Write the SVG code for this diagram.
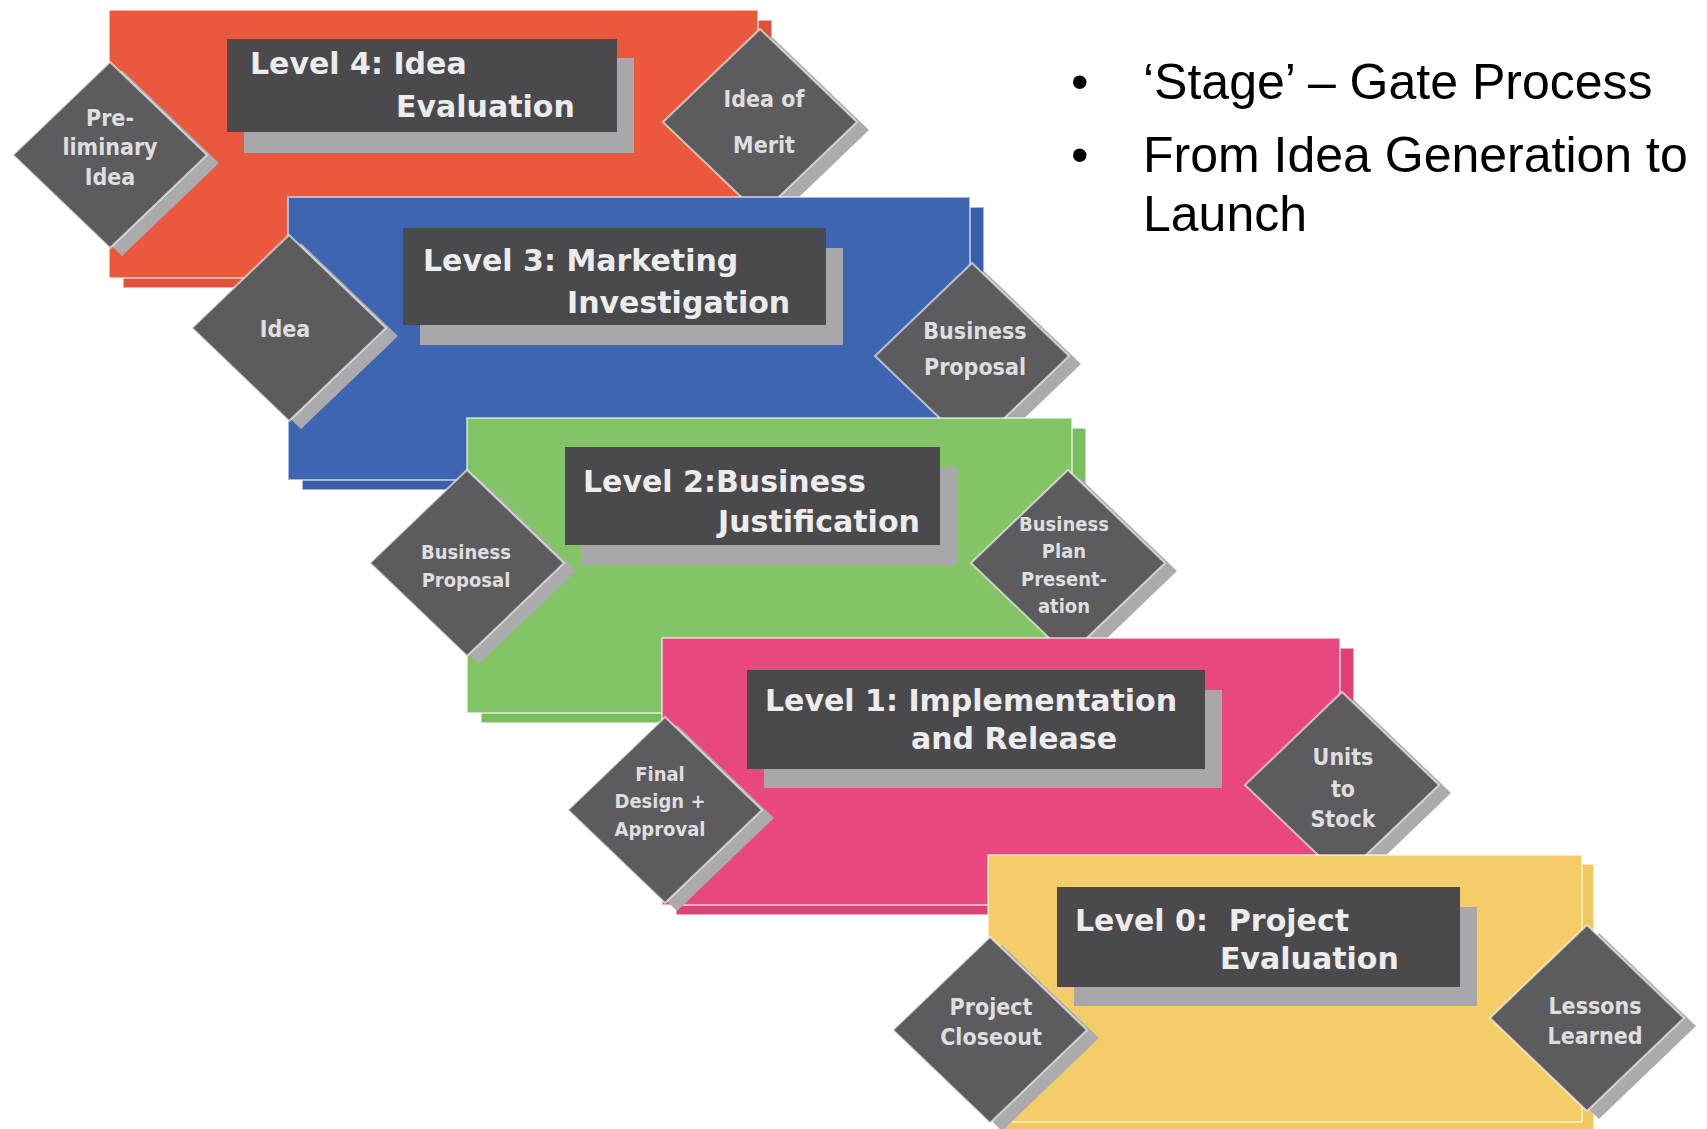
<svg xmlns="http://www.w3.org/2000/svg" xmlns:xlink="http://www.w3.org/1999/xlink" width="1707" height="1129" viewBox="0 0 1707 1129">
<defs>
<style>
.title{font-family:"DejaVu Sans","Liberation Sans",sans-serif;font-weight:bold;font-size:30px;fill:#ececec}
.gt{font-family:"DejaVu Sans Condensed","DejaVu Sans",sans-serif;font-stretch:condensed;font-weight:bold;font-size:23px;fill:#dedede;text-anchor:middle}
.gts{font-size:20px}
.box{fill:#4a4a4d}
.boxsh{fill:#a8a8ab}
.gate{fill:#5c5c5f;stroke:#ffffff;stroke-opacity:0.6;stroke-width:2}
.gatesh{fill:#ababad}
.bul{font-family:"Liberation Sans",Arial,sans-serif;font-size:50px;fill:#000000}
.edge{stroke:#ffffff;stroke-opacity:0.55;stroke-width:2}
</style>
<g id="gateShape">
<polygon class="gatesh" points="-85,8 12,-85 109,8 12,101"/>
<polygon class="gate" points="-97,0 0,-93 97,0 0,93"/>
</g>
</defs>
<rect width="1707" height="1129" fill="#ffffff"/>

<g id="connectors"/>

<!-- Level 4 -->
<g id="level4">
<rect x="123" y="20" width="649" height="268" fill="#e0503a" class="edge"/>
<rect x="109" y="10" width="649" height="268" fill="#ea593d" class="edge"/>
<rect class="boxsh" x="244" y="58" width="390" height="95"/>
<rect class="box" x="227" y="39" width="390" height="93"/>
<text class="title" x="250" y="74">Level 4: Idea</text>
<text class="title" x="396" y="117">Evaluation</text>
<g id="gate-preliminary-idea">
<use xlink:href="#gateShape" x="110" y="155"/>
<text class="gt" x="110" y="126">Pre-</text>
<text class="gt" x="110" y="155">liminary</text>
<text class="gt" x="110" y="185">Idea</text>
</g>
<g id="gate-idea-of-merit">
<use xlink:href="#gateShape" x="760" y="122"/>
<text class="gt" x="764" y="107">Idea of</text>
<text class="gt" x="764" y="153">Merit</text>
</g>
</g>

<!-- Level 3 -->
<g id="level3">
<rect x="302" y="207" width="682" height="283" fill="#3960a8" class="edge"/>
<rect x="288" y="197" width="682" height="283" fill="#3e65b1" class="edge"/>
<rect class="boxsh" x="420" y="248" width="423" height="97"/>
<rect class="box" x="403" y="228" width="423" height="97"/>
<text class="title" x="423" y="271">Level 3: Marketing</text>
<text class="title" x="567" y="313">Investigation</text>
<g id="gate-idea">
<use xlink:href="#gateShape" x="289" y="328"/>
<text class="gt" x="285" y="337">Idea</text>
</g>
<g id="gate-business-proposal-1">
<use xlink:href="#gateShape" x="972" y="356"/>
<text class="gt" x="975" y="339">Business</text>
<text class="gt" x="975" y="375">Proposal</text>
</g>
</g>

<!-- Level 2 -->
<g id="level2">
<rect x="481" y="428" width="605" height="295" fill="#79be5e" class="edge"/>
<rect x="467" y="418" width="605" height="295" fill="#82c466" class="edge"/>
<rect class="boxsh" x="582" y="467" width="375" height="98"/>
<rect class="box" x="565" y="447" width="375" height="98"/>
<text class="title" x="583" y="492">Level 2:Business</text>
<text class="title" x="718" y="532">Justification</text>
<g id="gate-business-proposal-2">
<use xlink:href="#gateShape" x="467" y="563"/>
<text class="gt gts" x="466" y="559">Business</text>
<text class="gt gts" x="466" y="587">Proposal</text>
</g>
<g id="gate-business-plan-presentation">
<use xlink:href="#gateShape" x="1068" y="563"/>
<text class="gt gts" x="1064" y="531">Business</text>
<text class="gt gts" x="1064" y="558">Plan</text>
<text class="gt gts" x="1064" y="586">Present-</text>
<text class="gt gts" x="1064" y="613">ation</text>
</g>
</g>

<!-- Level 1 -->
<g id="level1">
<rect x="676" y="648" width="678" height="267" fill="#df4076" class="edge"/>
<rect x="662" y="638" width="678" height="267" fill="#e8487f" class="edge"/>
<rect class="boxsh" x="764" y="690" width="458" height="98"/>
<rect class="box" x="747" y="670" width="458" height="99"/>
<text class="title" x="765" y="711">Level 1: Implementation</text>
<text class="title" x="911" y="749">and Release</text>
<g id="gate-final-design-approval">
<use xlink:href="#gateShape" x="665" y="810"/>
<text class="gt gts" x="660" y="781">Final</text>
<text class="gt gts" x="660" y="808">Design +</text>
<text class="gt gts" x="660" y="836">Approval</text>
</g>
<g id="gate-units-to-stock">
<use xlink:href="#gateShape" x="1342" y="785"/>
<text class="gt" x="1343" y="765">Units</text>
<text class="gt" x="1343" y="797">to</text>
<text class="gt" x="1343" y="827">Stock</text>
</g>
</g>

<!-- Level 0 -->
<g id="level0">
<rect x="1000" y="864" width="594" height="267" fill="#f0c860" class="edge"/>
<rect x="988" y="855" width="594" height="267" fill="#f5cd68" class="edge"/>
<rect class="boxsh" x="1074" y="907" width="403" height="99"/>
<rect class="box" x="1057" y="887" width="403" height="100"/>
<text class="title" x="1075" y="931" xml:space="preserve">Level 0:  Project</text>
<text class="title" x="1220" y="969">Evaluation</text>
<g id="gate-project-closeout">
<use xlink:href="#gateShape" x="990" y="1030"/>
<text class="gt" x="991" y="1015">Project</text>
<text class="gt" x="991" y="1045">Closeout</text>
</g>
<g id="gate-lessons-learned">
<use xlink:href="#gateShape" x="1587" y="1018"/>
<text class="gt" x="1595" y="1014">Lessons</text>
<text class="gt" x="1595" y="1044">Learned</text>
</g>
</g>

<!-- Bullets -->
<g id="bullets">
<text class="bul" x="1071" y="99">•</text>
<text class="bul" x="1143" y="99">‘Stage’ – Gate Process</text>
<text class="bul" x="1071" y="172">•</text>
<text class="bul" x="1143" y="172">From Idea Generation to</text>
<text class="bul" x="1143" y="231">Launch</text>
</g>
</svg>
